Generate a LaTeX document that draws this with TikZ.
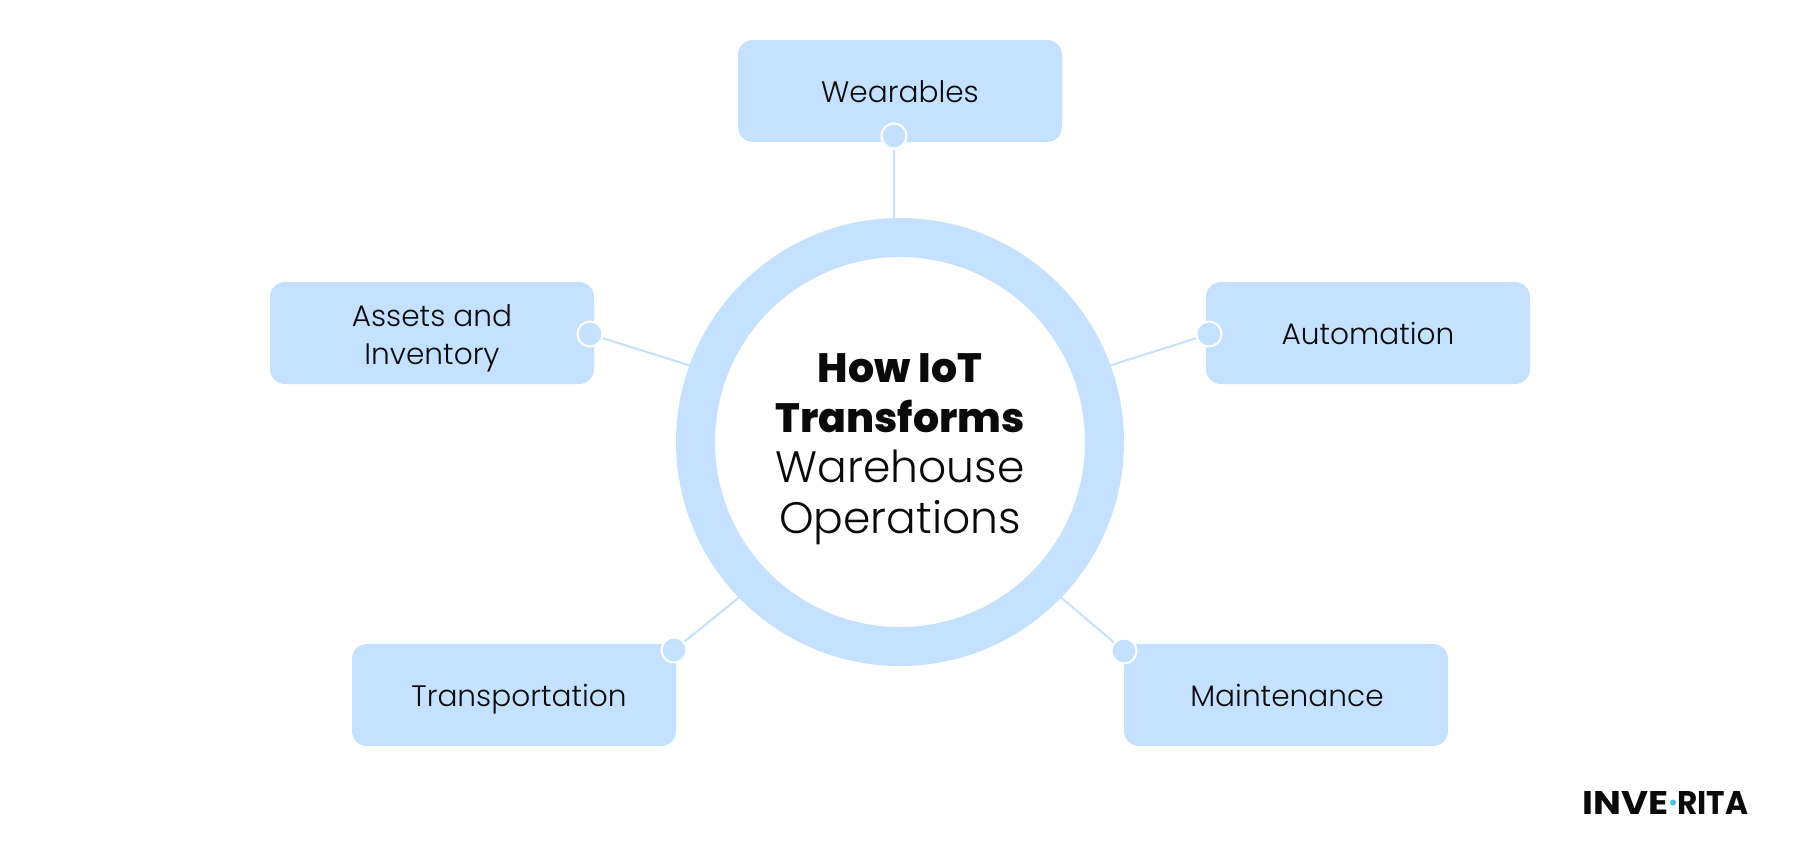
\documentclass[tikz,border=0pt]{standalone}
\usepackage{fontspec}
\usepackage{graphicx}
\setmainfont{Poppins}[UprightFont=* Light,BoldFont=* ExtraBold]
\newfontfamily\logofont{Poppins}[UprightFont=* Bold]
\definecolor{skyfill}{HTML}{C4E2FF}
\definecolor{inkc}{HTML}{0A0A0A}
\definecolor{logodot}{HTML}{45C3EE}
\newcommand{\boldline}[1]{{\fontsize{41}{50.2}\selectfont\textbf{#1}}}
\tikzset{
  topic/.style={fill=skyfill,rounded corners=15pt,minimum width=324pt,minimum height=102pt,inner sep=0pt,
    text=inkc,align=center,text depth=0pt,font=\fontsize{29.6}{38}\selectfont},
  knob/.style={circle,fill=skyfill,draw=white,line width=2pt,minimum size=25pt,inner sep=0pt},
  link/.style={draw=skyfill,line width=2pt},
  hubring/.style={circle,draw=skyfill,line width=39pt,minimum size=409pt,inner sep=0pt},
  hubtext/.style={text=inkc,align=center,inner sep=0pt,font=\fontsize{44}{50.2}\selectfont},
  logotext/.style={text=inkc,inner sep=0pt},
}
\begin{document}
\begin{tikzpicture}[x=1pt,y=-1pt]
\useasboundingbox[fill=white] (0,0) rectangle (1800,860);
\node[hubring] (hub) at (900,442) {};
\node[hubtext] (title) at (900,449) {\boldline{How IoT}\\\boldline{Transforms}\\Warehouse\\Operations};
\node[topic] (wear) at (900,91) {\raisebox{-1pt}{Wearables}};
\node[topic,text height=63pt] (asset) at (432,333) {Assets and\\Inventory};
\node[topic] (auto) at (1368,333) {Automation};
\node[topic] (trans) at (514,695) {\hspace*{10pt}Transportation};
\node[topic] (maint) at (1286,695) {\hspace*{2pt}Maintenance};
\node[knob] (kw) at (894,136) {};
\node[knob] (ka) at (590,334) {};
\node[knob] (ku) at (1209,334) {};
\node[knob] (kt) at (674,650) {};
\node[knob] (km) at (1124,651) {};
\draw[link] (kw.south) -- (kw.south |- hub.north);
\draw[link] (ka.-18) -- (hub.160.7);
\draw[link] (ku.198) -- (hub.20.2);
\draw[link] (kt) -- (hub.224.5);
\draw[link] (km) -- (hub.-44.1);
\node[logotext,anchor=east] (logoa) at (1669,802.5) {\resizebox{86pt}{23pt}{\logofont INVE}};
\node[logotext,anchor=west] (logob) at (1677,802.5) {\resizebox{71pt}{23pt}{\logofont RITA}};
\node[circle,fill=logodot,minimum size=6pt,inner sep=0pt] (logodotn) at (1673,802.5) {};
\end{tikzpicture}
\end{document}
